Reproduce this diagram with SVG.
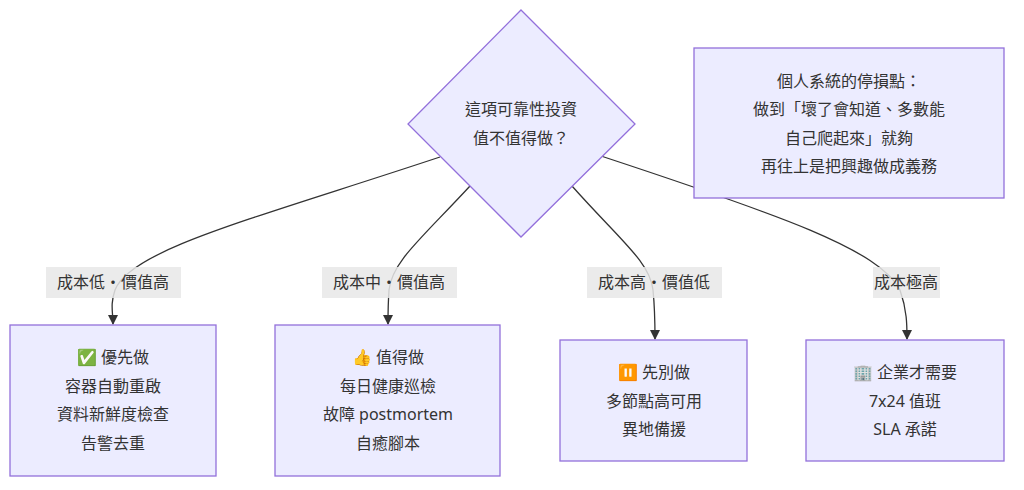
<svg xmlns="http://www.w3.org/2000/svg" width="1024" height="490" viewBox="0 0 1024 490">
<style>
.n{fill:#ECECFF;stroke:#9370DB;stroke-width:1.3}
text{font-family:"Noto Sans","Noto Sans CJK TC","Noto Color Emoji",sans-serif;font-size:16px;fill:#333;text-anchor:middle;dominant-baseline:central}
.e{fill:none;stroke:#333;stroke-width:1.3;marker-end:url(#a)}
.lb{fill:#e8e8e8;opacity:0.85}
</style>
<defs><marker id="a" viewBox="0 0 10 10" refX="9" refY="5" markerWidth="8" markerHeight="8" orient="auto"><path d="M0,0L10,5L0,10z" fill="#333"/></marker></defs>
<rect width="1024" height="490" fill="#fff"/>
<g id="edges">
<path class="e" d="M440,157 C250,220 130,250 115,290 C110,305 113,312 113,324"/>
<path class="e" d="M470,186 C420,240 392,262 389,290 C388,305 388,312 388,324"/>
<path class="e" d="M572,186 C620,240 650,262 653,290 C655,310 655,325 655,339"/>
<path class="e" d="M601,156 C780,215 880,250 900,290 C907,310 907,325 907,339"/>
<rect class="lb" x="46" y="267" width="135" height="31"/><text x="113" y="282">成本低・價值高</text>
<rect class="lb" x="322" y="267" width="135" height="31"/><text x="389" y="282">成本中・價值高</text>
<rect class="lb" x="587" y="267" width="135" height="31"/><text x="654" y="282">成本高・價值低</text>
<rect class="lb" x="873" y="267" width="67" height="31"/><text x="906" y="282">成本極高</text>
</g>
<g id="q"><path class="n" d="M521,10L635,124L521,237L408,124Z"/><text x="521" y="109">這項可靠性投資</text><text x="521" y="138">值不值得做？</text></g>
<g id="note"><rect class="n" x="694" y="48" width="310" height="150"/><text x="849" y="81">個人系統的停損點：</text><text x="849" y="109">做到「壞了會知道、多數能</text><text x="849" y="138">自己爬起來」就夠</text><text x="849" y="166">再往上是把興趣做成義務</text></g>
<g id="n1"><rect class="n" x="10" y="325" width="206" height="151"/><text x="113" y="357">✅ 優先做</text><text x="113" y="386">容器自動重啟</text><text x="113" y="414">資料新鮮度檢查</text><text x="113" y="443">告警去重</text></g>
<g id="n2"><rect class="n" x="275" y="325" width="225" height="151"/><text x="388" y="357">👍 值得做</text><text x="388" y="386">每日健康巡檢</text><text x="388" y="414">故障 postmortem</text><text x="388" y="443">自癒腳本</text></g>
<g id="n3"><rect class="n" x="560" y="340" width="187" height="121"/><text x="654" y="372">⏸ 先別做</text><text x="654" y="401">多節點高可用</text><text x="654" y="429">異地備援</text></g>
<g id="n4"><rect class="n" x="806" y="340" width="198" height="121"/><text x="905" y="372">🏢 企業才需要</text><text x="905" y="401">7x24 值班</text><text x="905" y="429">SLA 承諾</text></g>
</svg>
